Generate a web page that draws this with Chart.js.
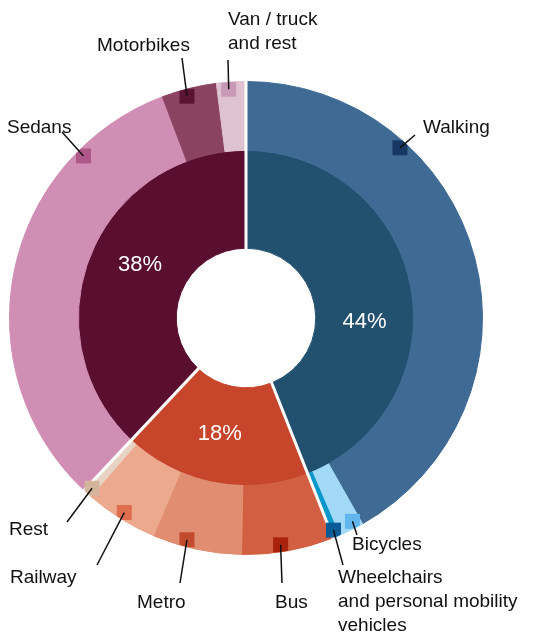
<!DOCTYPE html>
<html>
<head>
<meta charset="utf-8">
<script src="https://cdn.jsdelivr.net/npm/chart.js@4.4.1/dist/chart.umd.min.js"></script>
<style>
  html, body { margin: 0; padding: 0; background: #fff; }
  #wrap { width: 538px; height: 635px; position: relative; }
</style>
</head>
<body>
<div id="wrap"><canvas id="myChart" width="538" height="635"></canvas></div>
<script>
// outer ring: modes
const modes = ['Walking', 'Bicycles', 'Wheelchairs and personal mobility vehicles',
    'Bus', 'Metro', 'Railway', 'Rest', 'Sedans', 'Motorbikes', 'Van / truck and rest'];
const modeShares = [41.8, 1.75, 0.45, 6.3, 6.1, 5.0, 0.6, 32.25, 3.75, 2.0];
const modeColors = ['#3e6a94', '#a1d9f6', '#0a97c9', '#d25f41', '#e08d71', '#eca98d', '#e7d3c2',
    '#d18eb4', '#8a4461', '#dec2d1'];
const markerColors = ['#173764', '#62b6ee', '#0b5b97', '#a8220c', '#c24a2d', '#de6e4e', '#d4b49c',
    '#b0578a', '#5c1434', '#c99ab5'];

// inner ring: groups
const groups = ['Active', 'Public transport', 'Private vehicles'];
const groupShares = [44, 18, 38];
const groupLabels = ['44%', '18%', '38%'];
const groupColors = ['#22506f', '#c7452b', '#5a0f30'];

// label layout: where along the segment the marker sits, line end and text position
const labelLayout = [
    { t: 0.28, end: [415, 135], text: ['Walking'], x: 423, y: 128 },
    { t: 0.3, end: [357, 535], text: ['Bicycles'], x: 352, y: 545 },
    { t: 0.5, end: [343, 565], text: ['Wheelchairs', 'and personal mobility', 'vehicles'], x: 338, y: 578 },
    { t: 0.57, end: [282, 583], text: ['Bus'], x: 275, y: 603 },
    { t: 0.63, end: [180, 583], text: ['Metro'], x: 137, y: 603 },
    { t: 0.5, end: [97, 565], text: ['Railway'], x: 10, y: 578 },
    { t: 0.5, end: [67, 522], text: ['Rest'], x: 9, y: 530 },
    { t: 0.79, end: [62, 132], text: ['Sedans'], x: 7, y: 128 },
    { t: 0.43, end: [182, 58], text: ['Motorbikes'], x: 97, y: 46 },
    { t: 0.4, end: [228, 60], text: ['Van / truck', 'and rest'], x: 228, y: 20 }
];
const innerLabelPos = [0.58, 0.53, 0.537];

const FONT = '"Liberation Sans", Arial, Helvetica, sans-serif';

const annotations = {
    id: 'annotations',
    afterDatasetsDraw(chart) {
        const ctx = chart.ctx;
        const outer = chart.getDatasetMeta(0).data;
        const inner = chart.getDatasetMeta(1).data;
        const cx = outer[0].x, cy = outer[0].y;
        const R = outer[0].outerRadius;
        const r0 = inner[0].innerRadius;

        // white separators between groups
        ctx.save();
        ctx.strokeStyle = '#fff';
        ctx.lineWidth = 3;
        inner.forEach(a => {
            ctx.beginPath();
            ctx.moveTo(cx + (r0 - 1) * Math.cos(a.startAngle), cy + (r0 - 1) * Math.sin(a.startAngle));
            ctx.lineTo(cx + (R + 1) * Math.cos(a.startAngle), cy + (R + 1) * Math.sin(a.startAngle));
            ctx.stroke();
        });
        ctx.restore();

        // percentages in inner ring
        ctx.save();
        ctx.fillStyle = '#fff';
        ctx.font = '22px ' + FONT;
        ctx.textAlign = 'center';
        ctx.textBaseline = 'middle';
        inner.forEach((a, i) => {
            const ang = a.startAngle + innerLabelPos[i] * (a.endAngle - a.startAngle);
            const rr = (a.innerRadius + a.outerRadius) / 2;
            ctx.fillText(groupLabels[i], cx + rr * Math.cos(ang), cy + rr * Math.sin(ang));
        });
        ctx.restore();

        // markers, leader lines and labels
        const pts = outer.map((a, i) => {
            const ang = a.startAngle + labelLayout[i].t * (a.endAngle - a.startAngle);
            const rr = R - 7;
            return [cx + rr * Math.cos(ang), cy + rr * Math.sin(ang)];
        });
        ctx.save();
        ctx.beginPath();
        ctx.arc(cx, cy, R, 0, Math.PI * 2);
        ctx.clip();
        pts.forEach((p, i) => {
            ctx.fillStyle = markerColors[i];
            ctx.fillRect(p[0] - 7.5, p[1] - 7.5, 15, 15);
        });
        ctx.restore();

        ctx.save();
        ctx.strokeStyle = '#111';
        ctx.lineWidth = 1.5;
        ctx.fillStyle = '#111';
        ctx.font = '19px ' + FONT;
        ctx.textAlign = 'left';
        ctx.textBaseline = 'middle';
        labelLayout.forEach((l, i) => {
            ctx.beginPath();
            ctx.moveTo(pts[i][0], pts[i][1]);
            ctx.lineTo(l.end[0], l.end[1]);
            ctx.stroke();
            l.text.forEach((s, k) => ctx.fillText(s, l.x, l.y + k * 24));
        });
        ctx.restore();
    }
};

const ctx = document.getElementById('myChart').getContext('2d');
const myChart = new Chart(ctx, {
    type: 'doughnut',
    data: {
        labels: modes,
        datasets: [{
            label: 'modes',
            data: modeShares,
            backgroundColor: modeColors,
            borderColor: modeColors,
            borderWidth: 1,
            weight: 69
        }, {
            label: 'groups',
            data: groupShares,
            backgroundColor: groupColors,
            borderColor: groupColors,
            borderWidth: 1,
            weight: 98
        }]
    },
    options: {
        responsive: false,
        animation: false,
        cutout: '29.5%',
        layout: {
            padding: { left: 9, right: 55, top: 81, bottom: 80 }
        },
        plugins: {
            legend: { display: false },
            tooltip: { enabled: false }
        }
    },
    plugins: [annotations]
});
</script>
</body>
</html>
